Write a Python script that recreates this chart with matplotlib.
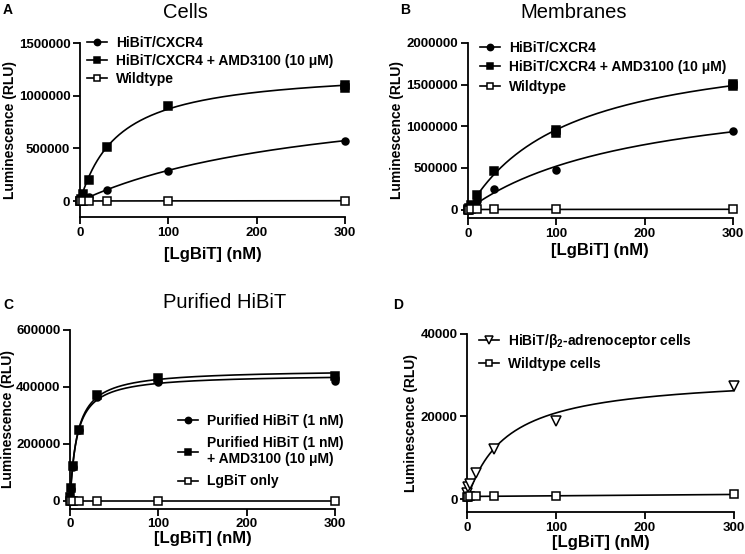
import numpy as np
import matplotlib
matplotlib.use('Agg')
import matplotlib.pyplot as plt

plt.rcParams['font.family'] = ['Liberation Sans', 'DejaVu Sans']
plt.rcParams['mathtext.fontset'] = 'custom'
plt.rcParams['mathtext.rm'] = 'Liberation Sans'
plt.rcParams['mathtext.bf'] = 'Liberation Sans:bold'

# x concentrations of LgBiT (nM)
conc = [0.3, 1, 3, 10, 30, 100, 300]

# A - cells
a_cxcr4 = [2000, 8000, 18000, 40000, 110000, 290000, 575000]
a_amd_x = [0.3, 1, 3, 10, 30, 100, 300, 300]
a_amd = [5000, 22000, 65000, 200000, 515000, 905000, 1105000, 1075000]
a_wt = [1000, 1500, 2000, 2500, 3000, 3500, 4000]

# B - membranes
b_cxcr4 = [3000, 12000, 40000, 100000, 250000, 480000, 945000]
b_amd_x = [0.3, 1, 3, 10, 30, 100, 100, 300, 300]
b_amd = [5000, 20000, 60000, 180000, 460000, 960000, 920000, 1505000, 1485000]
b_wt = [1000, 1500, 2000, 2500, 3000, 3500, 4000]

# C - purified HiBiT
c_pur_x = [0.3, 1, 3, 10, 30, 100, 300, 300]
c_pur = [12000, 42000, 120000, 248000, 365000, 418000, 420000, 432000]
c_amd = [12000, 44000, 122000, 250000, 370000, 432000, 438000]
c_lg = [500, 500, 500, 500, 500, 500, 500]

# D - beta2 cells
d_b2 = [1500, 2900, 3800, 6300, 12200, 18900, 27400]
d_wt = [700, 700, 750, 750, 750, 900, 1200]

W, H = 745, 554


def hyperbola_fit(x, y):
    # one-site binding fit: y = Bmax*x/(Kd+x), grid over Kd, Bmax by least squares
    x = np.asarray(x, float)
    y = np.asarray(y, float)
    best = None
    for kd in np.logspace(-1, 3, 2000):
        f = x / (kd + x)
        bmax = np.dot(f, y) / np.dot(f, f)
        err = np.sum((bmax * f - y) ** 2)
        if best is None or err < best[0]:
            best = (err, kd, bmax)
    xx = np.linspace(0, 300, 400)
    return xx, best[2] * xx / (best[1] + xx)


def line_fit(x, y):
    p = np.polyfit(x, y, 1)
    xx = np.linspace(0, 300, 50)
    return xx, np.polyval(p, xx)


def style_axes(ax, ymin, ymax, yticks, ylab_x, xlab_y):
    ax.spines['top'].set_visible(False)
    ax.spines['right'].set_visible(False)
    for s in ['left', 'bottom']:
        ax.spines[s].set_linewidth(1.3)
    ax.set_xlim(0, 300)
    ax.set_ylim(ymin, ymax)
    ax.set_xticks([0, 100, 200, 300])
    ax.set_yticks(yticks)
    ax.ticklabel_format(style='plain', axis='y', useOffset=False)
    ax.tick_params(width=1.3, length=5, labelsize=9.5, pad=2)
    for lab in ax.get_xticklabels() + ax.get_yticklabels():
        lab.set_fontweight('bold')
    ax.set_xlabel('[LgBiT] (nM)', fontsize=12, fontweight='bold', va='center')
    ax.set_ylabel('Luminescence (RLU)', fontsize=10, fontweight='bold', va='center')
    pos = ax.get_position()
    ax.xaxis.set_label_coords((pos.x0 + pos.x1) / 2, 1 - xlab_y / H, transform=ax.figure.transFigure)
    ax.yaxis.set_label_coords(ylab_x / W, (pos.y0 + pos.y1) / 2, transform=ax.figure.transFigure)


def series(ax, x, y, marker, filled, label, fit='hyp'):
    fc = 'black' if filled else 'white'
    ms = {'s': 5.5, 'o': 5, 'v': 6.5}[marker]
    if fit == 'hyp':
        xx, yy = hyperbola_fit(x, y)
    else:
        xx, yy = line_fit(x, y)
    ax.plot(xx, yy, color='black', lw=1.2, clip_on=False)
    ax.plot(x, y, linestyle='none', marker=marker, markersize=ms, mfc=fc,
            mec='black', mew=1.1, clip_on=False, zorder=5)
    # legend proxy
    ax.plot([], [], color='black', lw=1.2, marker=marker, markersize=ms - 0.5,
            mfc=fc, mec='black', mew=1.1, label=label)


def legend(ax, px, py, spacing=0.4):
    ax.legend(loc='upper left', bbox_to_anchor=(px / W, 1 - py / H),
              bbox_transform=ax.figure.transFigure, frameon=False,
              handlelength=1.5, handletextpad=0.6, labelspacing=spacing,
              prop={'weight': 'bold', 'size': 10}, borderaxespad=0)


fig = plt.figure(figsize=(7.45, 5.54), dpi=100)

axA = fig.add_axes([0.1074, 0.6083, 0.3557, 0.314])
axB = fig.add_axes([0.628, 0.6065, 0.3557, 0.316])
axC = fig.add_axes([0.094, 0.082, 0.3557, 0.323])
axD = fig.add_axes([0.627, 0.076, 0.358, 0.322])

series(axA, conc, a_cxcr4, 'o', True, 'HiBiT/CXCR4')
series(axA, a_amd_x, a_amd, 's', True, 'HiBiT/CXCR4 + AMD3100 (10 μM)')
series(axA, conc, a_wt, 's', False, 'Wildtype', fit='lin')
style_axes(axA, -150000, 1500000, [0, 500000, 1000000, 1500000], 10, 255)
legend(axA, 81, 30, spacing=0.3)

series(axB, conc, b_cxcr4, 'o', True, 'HiBiT/CXCR4')
series(axB, b_amd_x, b_amd, 's', True, 'HiBiT/CXCR4 + AMD3100 (10 μM)')
series(axB, conc, b_wt, 's', False, 'Wildtype', fit='lin')
style_axes(axB, -100000, 2000000, [0, 500000, 1000000, 1500000, 2000000], 397, 250)
legend(axB, 474, 35)

series(axC, c_pur_x, c_pur, 'o', True, 'Purified HiBiT (1 nM)')
series(axC, conc, c_amd, 's', True, 'Purified HiBiT (1 nM)\n+ AMD3100 (10 μM)')
series(axC, conc, c_lg, 's', False, 'LgBiT only', fit='lin')
style_axes(axC, -27000, 600000, [0, 200000, 400000, 600000], 8, 539)
legend(axC, 172, 408, spacing=0.6)

series(axD, conc, d_b2, 'v', False, r'HiBiT/β$_{\mathbf{2}}$-adrenoceptor cells')
series(axD, conc, d_wt, 's', False, 'Wildtype cells', fit='lin')
style_axes(axD, -3000, 40000, [0, 20000, 40000], 411, 543)
legend(axD, 473, 326, spacing=0.5)

# titles and panel letters
fig.text(185 / W, 1 - 12 / H, 'Cells', fontsize=14.5, ha='center', va='center')
fig.text(574 / W, 1 - 12 / H, 'Membranes', fontsize=14.5, ha='center', va='center')
fig.text(225 / W, 1 - 302 / H, 'Purified HiBiT', fontsize=14.5, ha='center', va='center')
for letter, px, py in [('A', 3, 10), ('B', 400, 10), ('C', 3, 305), ('D', 393, 305)]:
    fig.text(px / W, 1 - py / H, letter, fontsize=10, fontweight='bold',
             ha='left', va='center')

fig.savefig('out.png', dpi=100)
